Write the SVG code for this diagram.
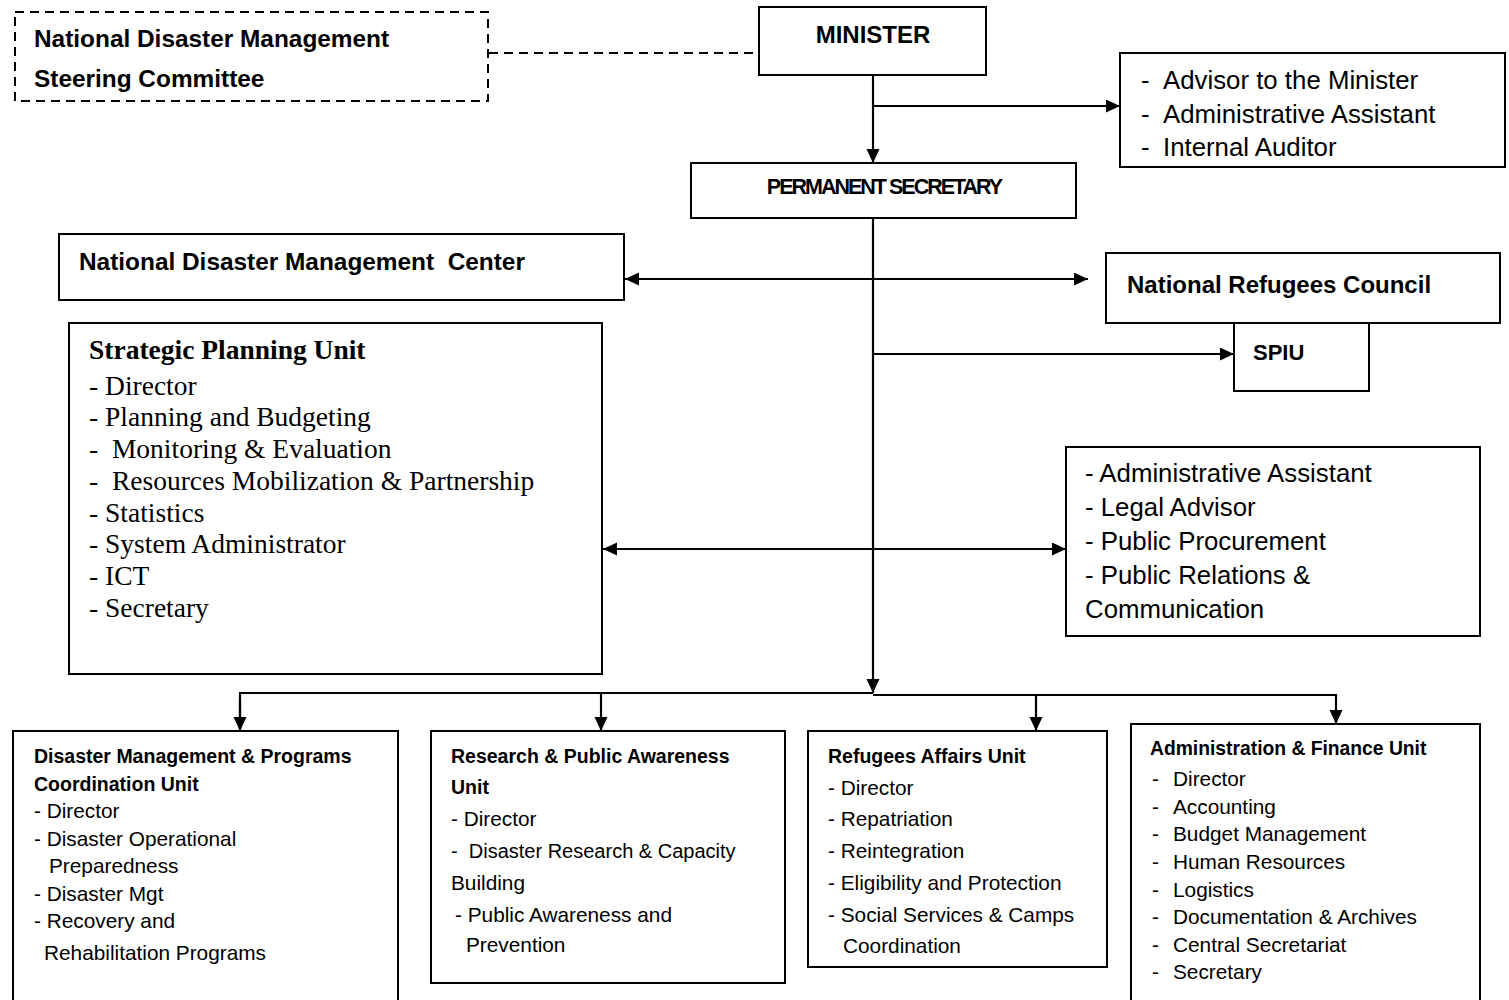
<svg xmlns="http://www.w3.org/2000/svg" width="1509" height="1000" viewBox="0 0 1509 1000">
<style>
.box{fill:#fff;stroke:#000;stroke-width:2}
.dash{fill:none;stroke:#000;stroke-width:2;stroke-dasharray:9,6}
.ln{fill:none;stroke:#000;stroke-width:2.2}
.t{font-family:"Liberation Sans",Arial,sans-serif;font-size:25.8px;fill:#000}
.b{font-weight:bold;font-size:24.4px}
.s{font-family:"Liberation Serif",serif;font-size:27.5px;fill:#000}
.m{font-size:20.8px}
.mb{font-size:19.5px}
</style>
<defs>
<marker id="ah" markerUnits="userSpaceOnUse" markerWidth="16" markerHeight="14" refX="14" refY="6.5" orient="auto-start-reverse"><path d="M0,0 L14,6.5 L0,13 Z" fill="#000"/></marker>
</defs>
<rect width="1509" height="1000" fill="#fff"/>
<g id="connectors">
<line class="dash" x1="489" y1="53" x2="757" y2="53"/>
<line class="ln" x1="873" y1="75" x2="873" y2="163" marker-end="url(#ah)"/>
<line class="ln" x1="873" y1="106" x2="1120" y2="106" marker-end="url(#ah)"/>
<line class="ln" x1="873" y1="218" x2="873" y2="693" marker-end="url(#ah)"/>
<line class="ln" x1="625" y1="279" x2="1088" y2="279" marker-start="url(#ah)" marker-end="url(#ah)"/>
<line class="ln" x1="873" y1="354" x2="1234" y2="354" marker-end="url(#ah)"/>
<line class="ln" x1="603" y1="549" x2="1066" y2="549" marker-start="url(#ah)" marker-end="url(#ah)"/>
<polyline class="ln" points="240,731 240,693 873,693"/>
<polyline class="ln" points="873,695 1336,695 1336,724" marker-end="url(#ah)"/>
<line class="ln" x1="240" y1="700" x2="240" y2="731" marker-end="url(#ah)"/>
<line class="ln" x1="601" y1="693" x2="601" y2="731" marker-end="url(#ah)"/>
<line class="ln" x1="1036" y1="695" x2="1036" y2="731" marker-end="url(#ah)"/>
</g>
<g id="steering">
<rect class="dash" x="15" y="12" width="473" height="89"/>
<text class="t b" x="34" y="47">National Disaster Management</text>
<text class="t b" x="34" y="87">Steering Committee</text>
</g>
<g id="minister">
<rect class="box" x="759" y="7" width="227" height="68"/>
<text class="t b" x="873" y="43" text-anchor="middle" style="font-size:24px">MINISTER</text>
</g>
<g id="advisors">
<rect class="box" x="1120" y="53" width="385" height="114"/>
<text class="t" x="1141" y="89">-</text><text class="t" x="1163" y="89">Advisor to the Minister</text>
<text class="t" x="1141" y="123">-</text><text class="t" x="1163" y="123">Administrative Assistant</text>
<text class="t" x="1141" y="156">-</text><text class="t" x="1163" y="156">Internal Auditor</text>
</g>
<g id="ps">
<rect class="box" x="691" y="163" width="385" height="55"/>
<text class="t b" x="884" y="194" text-anchor="middle" style="font-size:21.5px;letter-spacing:-2px">PERMANENT SECRETARY</text>
</g>
<g id="ndmc">
<rect class="box" x="59" y="234" width="565" height="66"/>
<text class="t b" x="79" y="270" xml:space="preserve">National Disaster Management  Center</text>
</g>
<g id="nrc">
<rect class="box" x="1106" y="253" width="394" height="70"/>
<text class="t b" x="1127" y="293" style="font-size:24px">National Refugees Council</text>
</g>
<g id="spiu">
<rect class="box" x="1234" y="323" width="135" height="68"/>
<text class="t b" x="1253" y="360" style="font-size:22px">SPIU</text>
</g>
<g id="spu">
<rect class="box" x="69" y="323" width="533" height="351"/>
<text class="s" x="89" y="359" font-weight="bold">Strategic Planning Unit</text>
<text class="s" x="89" y="395">- Director</text>
<text class="s" x="89" y="426">- Planning and Budgeting</text>
<text class="s" x="89" y="458" xml:space="preserve">-  Monitoring &amp; Evaluation</text>
<text class="s" x="89" y="490" xml:space="preserve">-  Resources Mobilization &amp; Partnership</text>
<text class="s" x="89" y="522">- Statistics</text>
<text class="s" x="89" y="553">- System Administrator</text>
<text class="s" x="89" y="585">- ICT</text>
<text class="s" x="89" y="617">- Secretary</text>
</g>
<g id="support">
<rect class="box" x="1066" y="447" width="414" height="189"/>
<text class="t" x="1085" y="482">- Administrative Assistant</text>
<text class="t" x="1085" y="516">- Legal Advisor</text>
<text class="t" x="1085" y="550">- Public Procurement</text>
<text class="t" x="1085" y="584">- Public Relations &amp;</text>
<text class="t" x="1085" y="618">Communication</text>
</g>
<g id="dmpcu">
<rect class="box" x="13" y="731" width="385" height="280"/>
<text class="t b mb" x="34" y="763">Disaster Management &amp; Programs</text>
<text class="t b mb" x="34" y="791">Coordination Unit</text>
<text class="t m" x="34" y="818">- Director</text>
<text class="t m" x="34" y="846">- Disaster Operational</text>
<text class="t m" x="49" y="873">Preparedness</text>
<text class="t m" x="34" y="901">- Disaster Mgt</text>
<text class="t m" x="34" y="928">- Recovery and</text>
<text class="t m" x="44" y="960">Rehabilitation Programs</text>
</g>
<g id="rpau">
<rect class="box" x="431" y="731" width="354" height="252"/>
<text class="t b mb" x="451" y="763">Research &amp; Public Awareness</text>
<text class="t b mb" x="451" y="794">Unit</text>
<text class="t m" x="451" y="826">- Director</text>
<text class="t m" x="451" y="858" xml:space="preserve" style="font-size:20px">-  Disaster Research &amp; Capacity</text>
<text class="t m" x="451" y="890">Building</text>
<text class="t m" x="455" y="922">- Public Awareness and</text>
<text class="t m" x="466" y="952">Prevention</text>
</g>
<g id="rau">
<rect class="box" x="808" y="731" width="299" height="236"/>
<text class="t b mb" x="828" y="763">Refugees Affairs Unit</text>
<text class="t m" x="828" y="795">- Director</text>
<text class="t m" x="828" y="826">- Repatriation</text>
<text class="t m" x="828" y="858">- Reintegration</text>
<text class="t m" x="828" y="890">- Eligibility and Protection</text>
<text class="t m" x="828" y="922">- Social Services &amp; Camps</text>
<text class="t m" x="843" y="953">Coordination</text>
</g>
<g id="afu">
<rect class="box" x="1131" y="724" width="349" height="290"/>
<text class="t b mb" x="1150" y="755" style="font-size:19.3px">Administration &amp; Finance Unit</text>
<text class="t m" x="1152" y="786">-</text><text class="t m" x="1173" y="786">Director</text>
<text class="t m" x="1152" y="814">-</text><text class="t m" x="1173" y="814">Accounting</text>
<text class="t m" x="1152" y="841">-</text><text class="t m" x="1173" y="841">Budget Management</text>
<text class="t m" x="1152" y="869">-</text><text class="t m" x="1173" y="869">Human Resources</text>
<text class="t m" x="1152" y="897">-</text><text class="t m" x="1173" y="897">Logistics</text>
<text class="t m" x="1152" y="924">-</text><text class="t m" x="1173" y="924">Documentation &amp; Archives</text>
<text class="t m" x="1152" y="952">-</text><text class="t m" x="1173" y="952">Central Secretariat</text>
<text class="t m" x="1152" y="979">-</text><text class="t m" x="1173" y="979">Secretary</text>
</g>
</svg>
